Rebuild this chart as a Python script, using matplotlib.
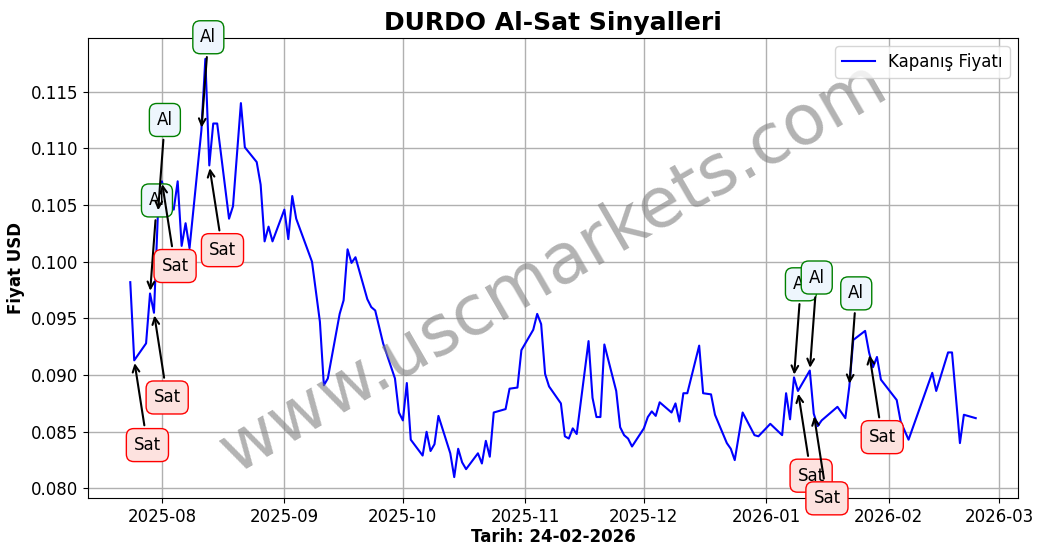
import matplotlib
matplotlib.use("Agg")
import matplotlib.pyplot as plt
import matplotlib.dates as mdates
import pandas as pd

dates = [
    "2025-07-24", "2025-07-25", "2025-07-28", "2025-07-29", "2025-07-30", "2025-07-31",
    "2025-08-01", "2025-08-02", "2025-08-03", "2025-08-04", "2025-08-05", "2025-08-06",
    "2025-08-07", "2025-08-08", "2025-08-11", "2025-08-12", "2025-08-13", "2025-08-14",
    "2025-08-15", "2025-08-18", "2025-08-19", "2025-08-21", "2025-08-22", "2025-08-25",
    "2025-08-26", "2025-08-27", "2025-08-28", "2025-08-29", "2025-09-01", "2025-09-02",
    "2025-09-03", "2025-09-04", "2025-09-08", "2025-09-10", "2025-09-11", "2025-09-12",
    "2025-09-15", "2025-09-16", "2025-09-17", "2025-09-18", "2025-09-19", "2025-09-22",
    "2025-09-23", "2025-09-24", "2025-09-26", "2025-09-29", "2025-09-30", "2025-10-01",
    "2025-10-02", "2025-10-03", "2025-10-06", "2025-10-07", "2025-10-08", "2025-10-09",
    "2025-10-10", "2025-10-13", "2025-10-14", "2025-10-15", "2025-10-16", "2025-10-17",
    "2025-10-20", "2025-10-21", "2025-10-22", "2025-10-23", "2025-10-24", "2025-10-27",
    "2025-10-28", "2025-10-30", "2025-10-31", "2025-11-03", "2025-11-04", "2025-11-05",
    "2025-11-06", "2025-11-07", "2025-11-10", "2025-11-11", "2025-11-12", "2025-11-13",
    "2025-11-14", "2025-11-17", "2025-11-18", "2025-11-19", "2025-11-20", "2025-11-21",
    "2025-11-24", "2025-11-25", "2025-11-26", "2025-11-27", "2025-11-28", "2025-12-01",
    "2025-12-02", "2025-12-03", "2025-12-04", "2025-12-05", "2025-12-08", "2025-12-09",
    "2025-12-10", "2025-12-11", "2025-12-12", "2025-12-15", "2025-12-16", "2025-12-18",
    "2025-12-19", "2025-12-22", "2025-12-23", "2025-12-24", "2025-12-26", "2025-12-29",
    "2025-12-30", "2026-01-02", "2026-01-05", "2026-01-06", "2026-01-07", "2026-01-08",
    "2026-01-09", "2026-01-12", "2026-01-13", "2026-01-14", "2026-01-15", "2026-01-19",
    "2026-01-21", "2026-01-22", "2026-01-23", "2026-01-26", "2026-01-27", "2026-01-28",
    "2026-01-29", "2026-01-30", "2026-02-03", "2026-02-04", "2026-02-06", "2026-02-12",
    "2026-02-13", "2026-02-16", "2026-02-17", "2026-02-19", "2026-02-20", "2026-02-23",
]
close = [
    0.0982, 0.0913, 0.0928, 0.0972, 0.0955, 0.1043,
    0.1071, 0.1058, 0.1049, 0.1046, 0.1071, 0.1014,
    0.1034, 0.1012, 0.1116, 0.1179, 0.1085, 0.1122,
    0.1122, 0.1038, 0.1049, 0.1140, 0.1101, 0.1088,
    0.1068, 0.1018, 0.1031, 0.1018, 0.1046, 0.1020,
    0.1058, 0.1038, 0.1000, 0.0947, 0.0891, 0.0897,
    0.0954, 0.0966, 0.1011, 0.0999, 0.1004, 0.0967,
    0.0960, 0.0957, 0.0928, 0.0897, 0.0867, 0.0860,
    0.0893, 0.0843, 0.0829, 0.0850, 0.0833, 0.0839,
    0.0864, 0.0831, 0.0810, 0.0835, 0.0823, 0.0817,
    0.0831, 0.0822, 0.0842, 0.0828, 0.0867, 0.0870,
    0.0888, 0.0889, 0.0922, 0.0940, 0.0954, 0.0945,
    0.0901, 0.0890, 0.0875, 0.0846, 0.0844, 0.0853,
    0.0848, 0.0930, 0.0880, 0.0863, 0.0863, 0.0927,
    0.0886, 0.0854, 0.0847, 0.0844, 0.0837, 0.0853,
    0.0863, 0.0868, 0.0864, 0.0876, 0.0867, 0.0875,
    0.0859, 0.0884, 0.0884, 0.0926, 0.0884, 0.0883,
    0.0865, 0.0840, 0.0835, 0.0825, 0.0867, 0.0847,
    0.0846, 0.0857, 0.0847, 0.0884, 0.0861, 0.0898,
    0.0886, 0.0904, 0.0866, 0.0855, 0.0860, 0.0872,
    0.0862, 0.0890, 0.0931, 0.0939, 0.0920, 0.0907,
    0.0916, 0.0896, 0.0878, 0.0859, 0.0843, 0.0902,
    0.0886, 0.0920, 0.0920, 0.0840, 0.0865, 0.0862,
]

buy_dates = ["2025-07-29", "2025-07-31", "2025-08-11", "2026-01-08", "2026-01-12", "2026-01-22"]
sell_dates = ["2025-07-25", "2025-07-30", "2025-08-01", "2025-08-13", "2026-01-09", "2026-01-13", "2026-01-27"]

title = "DURDO Al-Sat Sinyalleri"
xlabel = "Tarih: 24-02-2026"
ylabel = "Fiyat USD"
legend_label = "Kapanış Fiyatı"
watermark = "www.uscmarkets.com"

series = pd.Series(close, index=pd.to_datetime(dates))

fig = plt.figure(figsize=(10.44, 5.54), dpi=100)
ax = fig.add_axes([88 / 1044, 1 - 498 / 554, (1018 - 88) / 1044, (498 - 38) / 554])

ax.plot(series.index, series.values, color="blue", lw=1.5, label=legend_label)

for d in buy_dates:
    t = pd.Timestamp(d)
    ax.annotate("Al", xy=(t, series[t]), xytext=(5, 67), textcoords="offset points",
                ha="center", va="center", fontsize=12,
                bbox=dict(boxstyle="round,pad=0.45", fc="#eef6fd", ec="green", lw=1),
                arrowprops=dict(arrowstyle="->", color="black", lw=1.5))
for d in sell_dates:
    t = pd.Timestamp(d)
    ax.annotate("Sat", xy=(t, series[t]), xytext=(9.5, -61), textcoords="offset points",
                ha="center", va="center", fontsize=12,
                bbox=dict(boxstyle="round,pad=0.45", fc="#fde2df", ec="red", lw=1),
                arrowprops=dict(arrowstyle="->", color="black", lw=1.5))

ax.text(0.5, 0.5, watermark, transform=ax.transAxes, fontsize=50, color="gray",
        alpha=0.6, rotation=30, ha="center", va="center")

ax.set_title(title, fontsize=18, fontweight="bold")
ax.set_xlabel(xlabel, fontsize=12, fontweight="bold", labelpad=2)
ax.set_ylabel(ylabel, fontsize=12, fontweight="bold")
ax.tick_params(labelsize=12)
ax.xaxis.set_major_locator(mdates.MonthLocator())
ax.xaxis.set_major_formatter(mdates.DateFormatter("%Y-%m"))
ax.grid(True, color="#b0b0b0", lw=1)
ax.legend(loc="upper right", fontsize=12)

fig.savefig("out.png", dpi=100)
